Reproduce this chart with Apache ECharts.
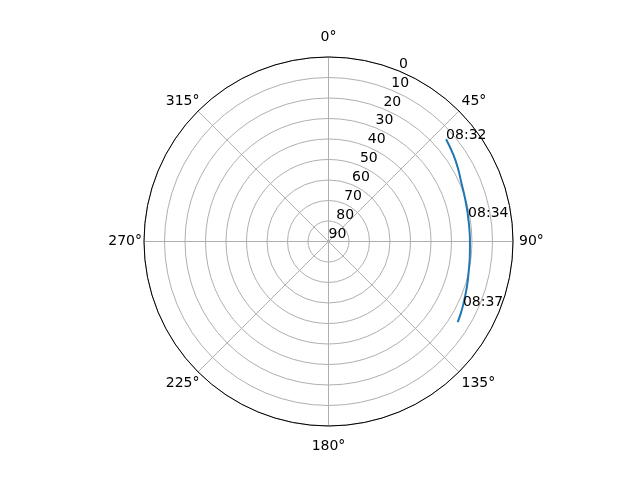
<!DOCTYPE html>
<html>
<head>
  <meta charset="UTF-8">
  <title>Sky plot</title>
  <script src="https://cdn.jsdelivr.net/npm/echarts@6/dist/echarts.min.js"></script>
  <style>
    html, body { margin: 0; padding: 0; background: #fff; }
    #main { width: 640px; height: 480px; }
  </style>
</head>
<body>
  <div id="main"></div>
  <script>
    // satellite track: azimuth (deg, clockwise from north) and elevation (deg)
    var azimuth = [49, 55, 60, 66, 72, 78, 80.2, 84, 90, 96, 102, 108, 115.6, 120, 122];
    var elevation = [14, 15.8, 17.3, 19.1, 20.1, 20.7, 20.9, 21.0, 21.0, 20.7, 20.1, 19.0, 17.3, 16.2, 15.7];
    var times = ['08:32', '', '', '', '', '', '08:34', '', '', '', '', '', '08:37', '', ''];
    var radiusTicks = [0, 10, 20, 30, 40, 50, 60, 70, 80, 90];

    var font = 'DejaVu Sans';
    var center = ['51.33%', '50.31%'];
    var R = 184.5;

    var data = [];
    for (var i = 0; i < azimuth.length; i++) {
      data.push({
        value: [elevation[i], azimuth[i]],
        name: times[i],
        label: { show: times[i] !== '' }
      });
    }

    // padding per angle label so each sits like matplotlib's centred labels
    var pads = {
      a0: [15, 0, 15, 0], a45: [4, 0, 4, 4], a90: [0, 0, 0, 8], a135: [6, 0, 6, 4],
      a180: [15, 0, 15, 0], a225: [6, 0, 6, 0], a270: [0, 4, 0, 0], a315: [4, 0, 4, 0]
    };
    var rich = {};
    for (var k in pads) {
      rich[k] = { fontFamily: font, fontSize: 14, color: '#000', padding: pads[k] };
    }

    var myChart = echarts.init(document.getElementById('main'));
    var option = {
      backgroundColor: '#fff',
      animation: false,
      polar: [
        { center: center, radius: R },
        { center: center, radius: R }
      ],
      angleAxis: [{
        polarIndex: 0,
        type: 'value',
        min: 0, max: 360, interval: 45,
        startAngle: 90,
        clockwise: true,
        axisLine: { lineStyle: { color: '#000', width: 1 } },
        axisTick: { show: false },
        axisLabel: {
          margin: -2,
          color: '#000', fontFamily: font, fontSize: 14,
          formatter: function (v) {
            if (v === 360) return '';
            return '{a' + v + '|' + v + '°}';
          },
          rich: rich
        },
        splitLine: { lineStyle: { color: '#b0b0b0', width: 1 } }
      }, {
        polarIndex: 1,
        type: 'value',
        min: 0, max: 360,
        startAngle: 67.5,
        clockwise: true,
        show: false
      }],
      radiusAxis: [{
        polarIndex: 0,
        type: 'value',
        min: 0, max: 90, interval: 10,
        inverse: true,
        axisLine: { show: false },
        axisTick: { show: false },
        axisLabel: { show: false },
        splitLine: { lineStyle: { color: '#b0b0b0', width: 1 } }
      }, {
        polarIndex: 1,
        type: 'value',
        min: 0, max: 90, interval: 10,
        inverse: true,
        axisLine: { show: false },
        axisTick: { show: false },
        splitLine: { show: false },
        axisLabel: {
          color: '#000', fontFamily: font, fontSize: 14,
          margin: 0,
          align: 'left',
          verticalAlign: 'bottom',
          formatter: function (v) { return radiusTicks.indexOf(v) >= 0 ? String(v) : ''; }
        }
      }],
      series: [{
        type: 'line',
        coordinateSystem: 'polar',
        polarIndex: 0,
        showSymbol: true,
        symbol: 'circle',
        symbolSize: 0,
        smooth: true,
        data: data,
        lineStyle: { color: '#1f77b4', width: 2 },
        itemStyle: { color: '#1f77b4' },
        label: {
          position: [0, 3],
          align: 'left',
          verticalAlign: 'bottom',
          color: '#000', fontFamily: font, fontSize: 14,
          formatter: '{b}'
        }
      }]
    };
    myChart.setOption(option);
  </script>
</body>
</html>
